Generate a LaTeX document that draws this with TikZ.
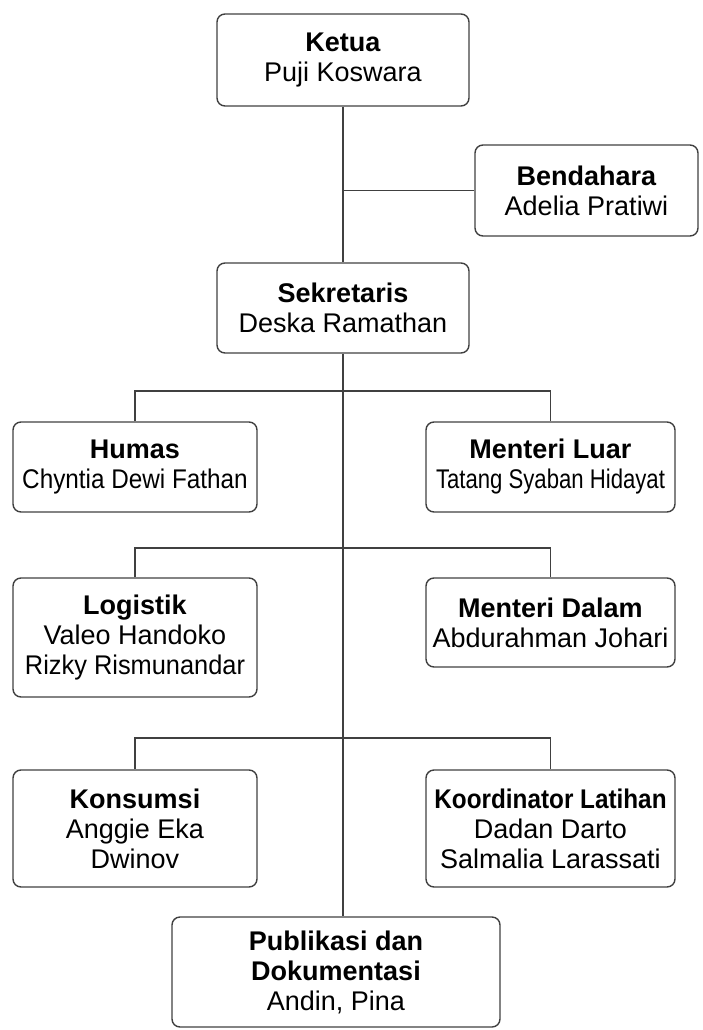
\documentclass[tikz,border=0pt]{standalone}
\usepackage{fontspec}
\setmainfont{Liberation Sans}
\usepackage{graphicx}

\begin{document}
\begin{tikzpicture}
		[x=1pt, y=1pt,
		every node/.style={draw=black!75, line width=1.4pt, rounded corners=8pt, align=center,
			font=\fontsize{27}{30}\selectfont, inner sep=2pt},
		line/.style={draw=black!75, line width=1.4pt},
		]

		\useasboundingbox (0,0) rectangle (702,-1030);

		\node (ketua) [minimum width=252, minimum height=92] at (343,-60)
			{\textbf{Ketua}\\Puji Koswara};
		\node (bendahara) [minimum width=223, minimum height=91] at (586.5,-190.5)
			{\textbf{Bendahara}\\Adelia Pratiwi};
		\node (sekretaris) [minimum width=252, minimum height=90] at (343,-308)
			{\textbf{Sekretaris}\\Deska Ramathan};

		\node (humas) [minimum width=244, minimum height=90] at (135,-467)
			{\textbf{Humas}\\\scalebox{0.9}[1]{Chyntia Dewi Fathan}};
		\node (luar) [minimum width=249, minimum height=90] at (550.5,-467)
			{\textbf{Menteri Luar}\\\scalebox{0.82}[1]{Tatang Syaban Hidayat}};

		\node (logistik) [minimum width=244, minimum height=119] at (135,-637.5)
			{\textbf{Logistik}\\Valeo Handoko\\\scalebox{0.94}[1]{Rizky Rismunandar}};
		\node (dalam) [minimum width=249, minimum height=89] at (550.5,-622.5)
			{\textbf{Menteri Dalam}\\Abdurahman Johari};

		\node (konsumsi) [minimum width=244, minimum height=117] at (135,-828.5)
			{\textbf{Konsumsi}\\Anggie Eka\\Dwinov};
		\node (koordinator) [minimum width=249, minimum height=117] at (550.5,-828.5)
			{\scalebox{0.9}[1]{\textbf{Koordinator Latihan}}\\Dadan Darto\\Salmalia Larassati};

		\node (publikasi) [minimum width=328, minimum height=110] at (336,-972)
			{\textbf{Publikasi dan}\\\textbf{Dokumentasi}\\Andin, Pina};

		% Stamm und Abzweigungen
		\coordinate (tb) at (343,-190.5);
		\coordinate (b1) at (343,-391);
		\coordinate (b2) at (343,-548);
		\coordinate (b3) at (343,-738);

		\draw[line] (ketua.south) -- (sekretaris.north);
		\draw[line] (tb) -- (bendahara.west);
		\draw[line] (sekretaris.south) -- (sekretaris.south |- publikasi.north);
		\draw[line] (humas.north) |- (b1) -| (luar.north);
		\draw[line] (logistik.north) |- (b2) -| (dalam.north);
		\draw[line] (konsumsi.north) |- (b3) -| (koordinator.north);
	\end{tikzpicture}
\end{document}
